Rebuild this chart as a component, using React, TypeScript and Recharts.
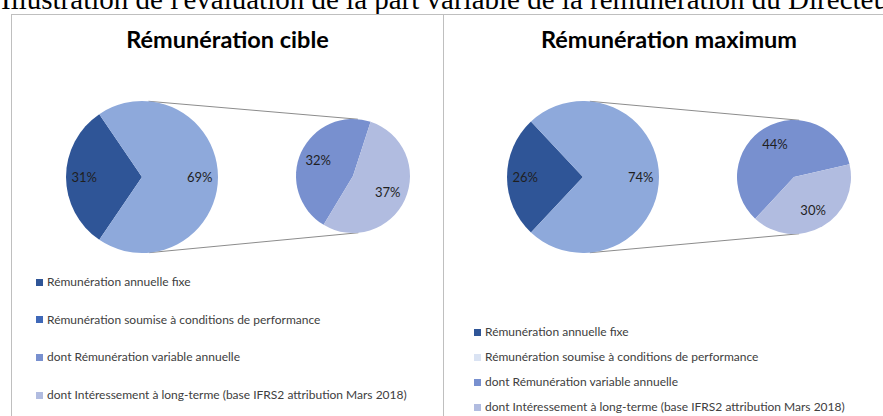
import React from "react";
import { Cell, Pie, PieChart } from "recharts";

const LEGEND_LABELS = [
  "Rémunération annuelle fixe",
  "Rémunération soumise à conditions de performance",
  "dont Rémunération variable annuelle",
  "dont Intéressement à long-terme (base IFRS2 attribution Mars 2018)",
];

const CIBLE_MAIN = [31, 69];
const CIBLE_SECONDARY = [32, 37];
const MAX_MAIN = [26, 74];
const MAX_SECONDARY = [44, 30];

const MAIN_COLORS = ["#2F5597", "#8EA9DB"];
const SECONDARY_COLORS = ["#7890CF", "#B1BCE0"];
const LEFT_LEGEND_COLORS = ["#2F5597", "#3F68B8", "#7890CF", "#B1BCE0"];
const RIGHT_LEGEND_COLORS = ["#2F5597", "#DAE3F3", "#7890CF", "#B1BCE0"];

const FONT = "Lato, 'Open Sans', sans-serif";
const RAD = Math.PI / 180;

const CHART_W = 432;
const CHART_H = 250;
const MAIN_R = 76;
const SEC_R = 57;

function makeLabel(ratio: number) {
  return (props: any) => {
    const { cx, cy, midAngle, outerRadius, value } = props;
    const r = outerRadius * ratio;
    const x = cx + r * Math.cos(-midAngle * RAD);
    const y = cy + r * Math.sin(-midAngle * RAD);
    return (
      <text
        x={x}
        y={y}
        textAnchor="middle"
        dominantBaseline="central"
        fill="#1F1F1F"
        fontSize={13}
        fontFamily={FONT}
      >
        {`${value}%`}
      </text>
    );
  };
}

function tangents(c1: number[], r1: number, c2: number[], r2: number) {
  const dx = c2[0] - c1[0];
  const dy = c2[1] - c1[1];
  const d = Math.hypot(dx, dy);
  const base = Math.atan2(dy, dx);
  const a = Math.acos((r1 - r2) / d);
  return [base - a, base + a].map((t) => [
    c1[0] + r1 * Math.cos(t),
    c1[1] + r1 * Math.sin(t),
    c2[0] + r2 * Math.cos(t),
    c2[1] + r2 * Math.sin(t),
  ]);
}

function PieOfPie({
  main,
  secondary,
  mainCenter,
  secCenter,
  secStart,
}: {
  main: number[];
  secondary: number[];
  mainCenter: number[];
  secCenter: number[];
  secStart: number;
}) {
  const mainData = main.map((v, i) => ({ name: LEGEND_LABELS[i], value: v }));
  const secData = secondary.map((v, i) => ({ name: LEGEND_LABELS[i + 2], value: v }));
  const total = main.reduce((s, v) => s + v, 0);
  const mainStart = 180 - (main[0] / total) * 180;
  const lines = tangents(mainCenter, MAIN_R, secCenter, SEC_R);

  return (
    <div style={{ position: "absolute", left: 0, top: 0, width: CHART_W, height: CHART_H }}>
      <svg
        width={CHART_W}
        height={CHART_H}
        style={{ position: "absolute", left: 0, top: 0 }}
      >
        {lines.map((l, i) => (
          <line key={i} x1={l[0]} y1={l[1]} x2={l[2]} y2={l[3]} stroke="#8C8C8C" strokeWidth={1} />
        ))}
      </svg>
      <div style={{ position: "absolute", left: 0, top: 0 }}>
        <PieChart width={CHART_W} height={CHART_H} margin={{ top: 0, right: 0, bottom: 0, left: 0 }}>
          <Pie
            data={mainData}
            dataKey="value"
            cx={mainCenter[0]}
            cy={mainCenter[1]}
            outerRadius={MAIN_R}
            startAngle={mainStart}
            endAngle={mainStart + 360}
            stroke="none"
            labelLine={false}
            label={makeLabel(0.76)}
            isAnimationActive={false}
          >
            {mainData.map((_, i) => (
              <Cell key={i} fill={MAIN_COLORS[i]} stroke="none" />
            ))}
          </Pie>
          <Pie
            data={secData}
            dataKey="value"
            cx={secCenter[0]}
            cy={secCenter[1]}
            outerRadius={SEC_R}
            startAngle={secStart}
            endAngle={secStart + 360}
            stroke="none"
            labelLine={false}
            label={makeLabel(0.67)}
            isAnimationActive={false}
          >
            {secData.map((_, i) => (
              <Cell key={i} fill={SECONDARY_COLORS[i]} stroke="none" />
            ))}
          </Pie>
        </PieChart>
      </div>
    </div>
  );
}

function LegendList({
  colors,
  top,
  left,
  gap,
}: {
  colors: string[];
  top: number;
  left: number;
  gap: number;
}) {
  return (
    <div style={{ position: "absolute", left, top }}>
      {LEGEND_LABELS.map((label, i) => (
        <div
          key={label}
          style={{
            position: "absolute",
            left: 0,
            top: i * gap,
            display: "flex",
            alignItems: "center",
            whiteSpace: "nowrap",
            fontFamily: FONT,
            fontSize: 12,
            color: "#404040",
            height: 14,
            lineHeight: "14px",
          }}
        >
          <span
            style={{
              display: "inline-block",
              width: 7,
              height: 7,
              background: colors[i],
              marginRight: 4,
            }}
          />
          {label}
        </div>
      ))}
    </div>
  );
}

export default function App() {
  return (
    <div
      style={{
        position: "absolute",
        left: 0,
        top: 0,
        width: 883,
        height: 416,
        overflow: "hidden",
        background: "#fff",
      }}
    >
      <svg width={883} height={20} style={{ position: "absolute", left: 0, top: 0 }}>
        <text
          x={1}
          y={9}
          fontFamily="'Liberation Serif', 'Times New Roman', serif"
          fontSize={29}
          fill="#000"
        >
          Illustration de l'évaluation de la part variable de la rémunération du Directeur Général
        </text>
      </svg>

      {/* left panel */}
      <div
        style={{
          position: "absolute",
          left: 11,
          top: 14,
          width: 431,
          height: 420,
          borderLeft: "1px solid #BFBFBF",
          borderTop: "1px solid #BFBFBF",
          borderRight: "1px solid #BFBFBF",
        }}
      >
        <div
          style={{
            position: "absolute",
            left: 0,
            width: 431,
            top: 10,
            textAlign: "center",
            fontFamily: FONT,
            fontWeight: 700,
            fontSize: 23.5,
            color: "#000",
          }}
        >
          Rémunération cible
        </div>
        <PieOfPie
          main={CIBLE_MAIN}
          secondary={CIBLE_SECONDARY}
          mainCenter={[130, 162]}
          secCenter={[341, 161]}
          secStart={72}
        />
        <LegendList colors={LEFT_LEGEND_COLORS} top={260} left={24} gap={37.7} />
      </div>

      {/* right panel */}
      <div
        style={{
          position: "absolute",
          left: 443,
          top: 14,
          width: 460,
          height: 420,
          borderTop: "1px solid #BFBFBF",
        }}
      >
        <div
          style={{
            position: "absolute",
            left: 0,
            width: 452,
            top: 10,
            textAlign: "center",
            fontFamily: FONT,
            fontWeight: 700,
            fontSize: 23.5,
            color: "#000",
          }}
        >
          Rémunération maximum
        </div>
        <PieOfPie
          main={MAX_MAIN}
          secondary={MAX_SECONDARY}
          mainCenter={[140, 162]}
          secCenter={[351, 162]}
          secStart={13}
        />
        <LegendList colors={RIGHT_LEGEND_COLORS} top={310} left={31} gap={25} />
      </div>
    </div>
  );
}
